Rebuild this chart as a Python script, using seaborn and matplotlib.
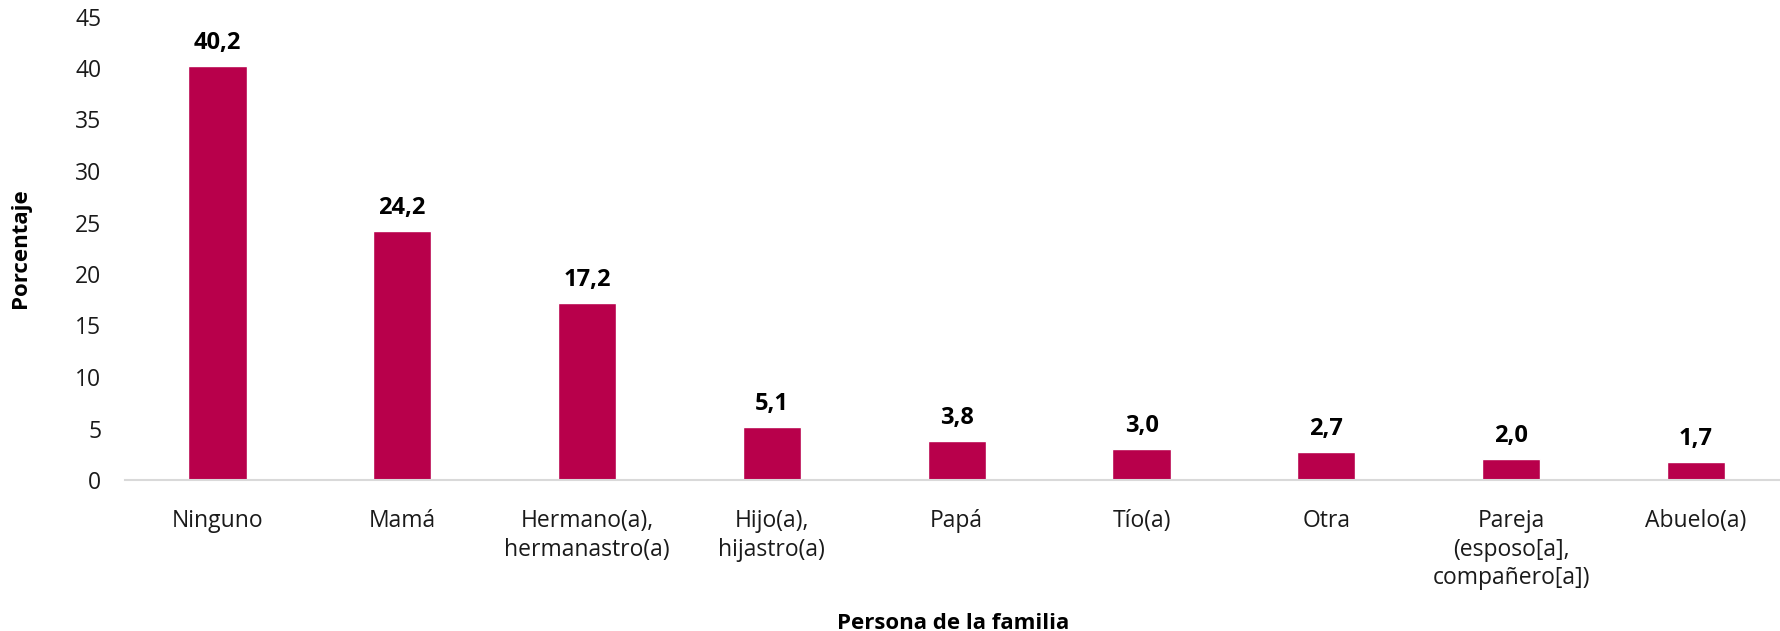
import pandas as pd
import matplotlib
matplotlib.use("Agg")
import matplotlib.pyplot as plt
import seaborn as sns

sns.set_theme(style="white")
plt.rcParams["font.family"] = ["Open Sans", "DejaVu Sans"]

categorias = ["Ninguno", "Mamá", "Hermano(a),\nhermanastro(a)", "Hijo(a),\nhijastro(a)",
              "Papá", "Tío(a)", "Otra", "Pareja\n(esposo[a],\ncompañero[a])", "Abuelo(a)"]
porcentajes = [40.2, 24.2, 17.2, 5.1, 3.8, 3.0, 2.7, 2.0, 1.7]
yticks = [0, 5, 10, 15, 20, 25, 30, 35, 40, 45]

df = pd.DataFrame({"categoria": categorias, "porcentaje": porcentajes})

fig = plt.figure(figsize=(17.81, 6.31), dpi=100)
ax = fig.add_axes([125 / 1781, 1 - 480 / 631, 1656 / 1781, 463.5 / 631])

sns.barplot(data=df, x="categoria", y="porcentaje", color="#B8004B",
            width=0.315, saturation=1, ax=ax)

ax.set_ylim(0, 45)
ax.set_xlim(-0.5, 8.46)
ax.set_yticks(yticks)
ax.tick_params(axis="both", length=0, labelsize=16.5, colors="#1a1a1a")
ax.tick_params(axis="y", pad=17)
ax.tick_params(axis="x", pad=21)
for lbl in ax.get_xticklabels():
    lbl.set_linespacing(1.25)
for sp in ["top", "right", "left"]:
    ax.spines[sp].set_visible(False)
ax.spines["bottom"].set_color("#d9d9d9")
ax.spines["bottom"].set_linewidth(1.5)

for p, v in zip(ax.patches, porcentajes):
    ax.annotate(f"{v:.1f}".replace(".", ","), (p.get_x() + p.get_width() / 2, v),
                xytext=(0, 8), textcoords="offset points", ha="center", va="bottom",
                fontsize=17, fontweight="bold", color="black")

ax.set_ylabel("Porcentaje", fontsize=16, fontweight="bold", color="black")
ax.set_xlabel("Persona de la familia", fontsize=16, fontweight="bold", color="black")
ax.yaxis.set_label_coords(-0.057, 0.5)
ax.xaxis.set_label_coords(0.5, -0.287)

fig.savefig("out.png", dpi=100)
